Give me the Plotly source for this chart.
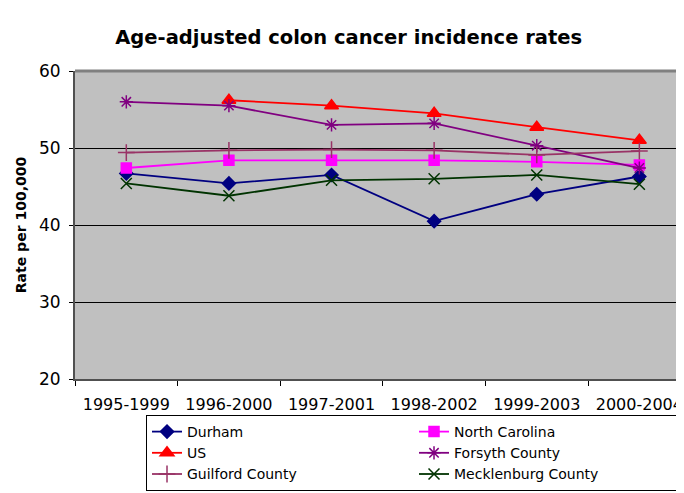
import plotly.graph_objects as go

periods = ["1995-1999", "1996-2000", "1997-2001", "1998-2002", "1999-2003", "2000-2004"]
durham = [46.7, 45.4, 46.5, 40.5, 44.0, 46.3]
north_carolina = [47.4, 48.4, 48.4, 48.4, 48.2, 47.8]
us = [None, 56.2, 55.5, 54.5, 52.7, 51.0]
forsyth = [56.0, 55.5, 53.0, 53.2, 50.3, 47.4]
guilford = [49.4, 49.7, 49.8, 49.7, 49.1, 49.6]
mecklenburg = [45.4, 43.8, 45.8, 46.0, 46.5, 45.3]

series = [
    ("Durham", durham, "#000080", "diamond", 10),
    ("North Carolina", north_carolina, "#FF00FF", "square", 10),
    ("US", us, "#FF0000", "triangle-up", 12),
    ("Forsyth County", forsyth, "#800080", "asterisk-open", 11),
    ("Guilford County", guilford, "#993366", "cross-thin-open", 12),
    ("Mecklenburg County", mecklenburg, "#003300", "x-thin-open", 11),
]

FONT = "DejaVu Sans"
W, H = 676, 485
L, T, R, B = 67, 63, 0, 114

fig = go.Figure()
for name, vals, col, sym, sz in series:
    fig.add_trace(go.Scatter(
        x=periods, y=vals, name=name, mode="lines+markers",
        line=dict(color=col, width=1.8),
        marker=dict(symbol=sym, size=sz, color=col, line=dict(color=col, width=1.5)),
    ))

fig.update_layout(
    width=W, height=H,
    margin=dict(l=L, r=R, t=T, b=B),
    paper_bgcolor="white", plot_bgcolor="#C0C0C0",
    font=dict(family=FONT, size=16, color="black"),
    title=dict(text="<b>Age-adjusted colon cancer incidence rates</b>",
               x=0.504, xref="container", xanchor="center",
               y=0.940, yref="container", yanchor="middle",
               font=dict(size=19.5, family=FONT)),
    legend=dict(orientation="h", x=0.1166, xanchor="left", y=-0.1169, yanchor="top",
                bgcolor="white", bordercolor="black", borderwidth=1,
                entrywidth=222, font=dict(size=14, family=FONT), tracegroupgap=0),
    showlegend=True,
)
fig.update_xaxes(
    type="category", range=[-0.5, 5.435], showgrid=False,
    ticks="outside", tickson="boundaries", ticklen=5, tickcolor="black",
    showline=True, linecolor="#505050", linewidth=2, ticklabelstandoff=10,
    tickfont=dict(size=16, family=FONT),
)
fig.update_yaxes(
    range=[20, 60], dtick=10, showgrid=True, gridcolor="black", gridwidth=1,
    ticks="outside", ticklen=4, tickcolor="black", ticklabelstandoff=5,
    showline=True, linecolor="#505050", linewidth=2, mirror=False,
    title=dict(text="<b>Rate per 100,000</b>", font=dict(size=14, family=FONT), standoff=9),
    tickfont=dict(size=17, family=FONT), zeroline=False,
)
fig.add_shape(type="line", xref="paper", yref="paper", x0=0, x1=1, y0=1, y1=1,
              line=dict(color="#808080", width=3))

fig.write_html("out.html")
